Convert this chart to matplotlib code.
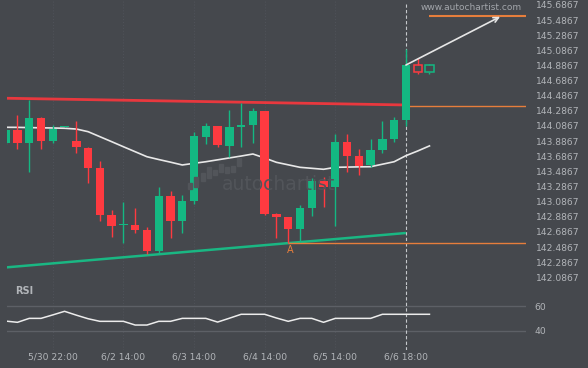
import matplotlib
matplotlib.use("Agg")
import matplotlib.pyplot as plt
import numpy as np
from matplotlib.patches import Rectangle
from matplotlib.transforms import ScaledTranslation

# 4h candles, index 0..36 (35, 36 are the hollow forecast boxes)
opens = [143.812, 143.980, 143.812, 144.139, 143.839, 144.024, 143.835, 143.742, 143.478, 142.853,
         142.722, 142.725, 142.659, 142.381, 143.108, 142.782, 143.046, 143.892, 144.033, 143.773,
         144.024, 144.050, 144.231, 142.870, 142.831, 142.676, 142.953, 143.306, 143.227, 143.822,
         143.637, 143.518, 143.716, 143.861, 144.116, 144.835, 144.751]
highs = [144.000, 144.178, 144.377, 144.152, 144.046, 144.036, 144.099, 143.752, 143.571, 142.923,
         143.025, 142.953, 142.698, 143.227, 143.174, 143.117, 143.950, 144.077, 144.033, 144.245,
         144.333, 144.267, 144.231, 142.887, 142.831, 142.985, 143.342, 143.355, 143.931, 143.927,
         143.733, 143.857, 144.099, 144.148, 145.051, 144.936, 144.856]
lows = [143.800, 143.733, 143.421, 143.733, 143.812, 144.022, 143.672, 143.276, 142.774, 142.570,
        142.483, 142.615, 142.338, 142.359, 142.549, 142.623, 142.998, 143.791, 143.752, 143.627,
        143.752, 143.804, 142.861, 142.549, 142.483, 142.496, 142.848, 142.967, 142.716, 143.421,
        143.389, 143.487, 143.680, 143.826, 144.033, 144.724, 144.724]
closes = [143.980, 143.812, 144.139, 143.839, 143.993, 144.033, 143.760, 143.482, 142.861, 142.716,
          142.727, 142.663, 142.385, 143.108, 142.782, 143.042, 143.901, 144.033, 143.786, 144.020,
          144.050, 144.231, 142.874, 142.835, 142.676, 142.949, 143.306, 143.227, 143.822, 143.641,
          143.508, 143.716, 143.861, 144.112, 144.839, 144.751, 144.835]
forecast = [35, 36]

ma = [144.016, 144.015, 144.012, 144.009, 144.007, 144.003, 143.993, 143.958, 143.892, 143.826,
      143.759, 143.693, 143.627, 143.590, 143.555, 143.518, 143.540, 143.561, 143.586, 143.611,
      143.636, 143.663, 143.610, 143.553, 143.520, 143.487, 143.474, 143.461, 143.487, 143.490,
      143.493, 143.495, 143.528, 143.561, 143.641, 143.703, 143.770]

rsi = [47.8, 46.8, 50.0, 50.0, 52.8, 55.7, 52.6, 49.7, 47.6, 47.6,
       47.6, 44.6, 44.6, 47.6, 47.6, 50.0, 50.0, 50.0, 47.0, 50.1,
       53.3, 53.3, 53.3, 50.3, 47.6, 50.0, 50.0, 46.8, 50.0, 50.0,
       50.0, 50.0, 53.3, 53.3, 53.3, 53.3, 53.3]

resistance_x = [0, 34]
resistance_y = [144.400, 144.311]
support_x = [0, 34]
support_y = [142.164, 142.619]
breakout_level = 144.30
low_level = 142.4867
target_level = 145.4867
arrow_start = (34, 144.839)
arrow_end = (42, 145.477)
point_a = (24, 142.4867)

xtick_pos = [4, 10, 16, 22, 28, 34]
xtick_labels = ["5/30 22:00", "6/2 14:00", "6/3 14:00", "6/4 14:00", "6/5 14:00", "6/6 18:00"]
ytick_vals = [142.0867 + 0.2 * k for k in range(19)]
rsi_ticks = [40, 60]

bg = "#45484d"
green = "#14b882"
red = "#fe3a40"
orange = "#e67e3c"
txt = "#b2b5b9"
xmin, xmax = 0.11, 44.2

fig = plt.figure(figsize=(5.88, 3.68), dpi=100, facecolor=bg)
ax = fig.add_axes([7 / 588, 1 - 285 / 368, 519 / 588, 285 / 368], facecolor=bg)
ax2 = fig.add_axes([7 / 588, 1 - 350 / 368, 519 / 588, 65 / 368], facecolor=bg)

# watermark logo
bars = [(188, 186, 6), (194, 182, 10), (201, 177, 8), (207, 172, 11), (213, 172, 5),
        (219, 168, 8), (225, 170, 6), (231, 169, 6), (237, 162, 8)]
for bx, by, bh in bars:
    fig.patches.append(Rectangle((bx / 588, 1 - (by + bh / 2) / 368), 3.5 / 588, bh / 368,
                                 transform=fig.transFigure, color="#52555a", zorder=0))
fig.text(222 / 588, 1 - 185 / 368, "autochartist", color="#52555a", fontsize=13.5,
         va="center", ha="left", zorder=0)

# vertical grid
for xp in xtick_pos[:-1]:
    ax.axvline(xp, color="#50535a", lw=0.7, ls=(0, (1, 2)), zorder=1)
    ax2.axvline(xp, color="#50535a", lw=0.7, ls=(0, (1, 2)), zorder=1)

# trend lines
ax.plot(resistance_x, resistance_y, color="#e8383e", lw=2.0, zorder=3, solid_capstyle="butt")
ax.plot(support_x, support_y, color="#1ab783", lw=1.8, zorder=3, solid_capstyle="butt")

# moving average
ax.plot(range(len(ma)), ma, color="#e8e8e8", lw=1.2, zorder=4)

# candles
w = 0.71
for i in range(len(opens)):
    o, h, l, c = opens[i], highs[i], lows[i], closes[i]
    col = green if c >= o else red
    if i in forecast:
        col = red if i == 35 else green
    bottom = min(o, c)
    height = max(abs(c - o), 0.012)
    if i in forecast:
        ax.vlines(i, h, max(o, c), color=col, lw=1, zorder=5)
        ax.vlines(i, min(o, c), l, color=col, lw=1, zorder=5)
        ax.add_patch(Rectangle((i - w / 2, bottom), w, height, facecolor="none",
                               edgecolor=col, lw=1.1, zorder=5))
    else:
        ax.vlines(i, l, h, color=col, lw=1, zorder=5)
        ax.add_patch(Rectangle((i - w / 2, bottom), w, height, facecolor=col,
                               edgecolor="none", zorder=5))

# levels
ax.hlines(breakout_level, 34, xmax, color=orange, lw=1.0, zorder=4)
ax.hlines(low_level, point_a[0], xmax, color=orange, lw=1.0, zorder=4)
ax.hlines(target_level, 36, xmax, color=orange, lw=1.5, zorder=4)
ax.text(point_a[0] + 0.2, point_a[1] - 0.03, "A", color=orange, fontsize=7, ha="center", va="top")

ax.annotate("", xy=arrow_end, xytext=arrow_start,
            arrowprops=dict(arrowstyle="->", color="#e6e6e6", lw=1.2,
                            shrinkA=0, shrinkB=0, mutation_scale=9), zorder=6)

# current time marker
ax.axvline(34, ymax=0.985, color="#c5c8cc", lw=0.8, ls=(0, (3, 2)), zorder=2)
ax2.axvline(34, color="#c5c8cc", lw=0.8, ls=(0, (3, 2)), zorder=2)

ax.set_xlim(xmin, xmax)
ax.set_ylim(141.9318, 145.6982)
ax.set_xticks([])
ax.yaxis.tick_right()
ax.set_yticks(ytick_vals)
ax.set_yticklabels([f"{v:.4f}" for v in ytick_vals])
ax.tick_params(axis="y", length=0, pad=7, labelsize=6.6, labelcolor=txt)
for lab in ax.get_yticklabels():
    lab.set_transform(lab.get_transform() + ScaledTranslation(0, -4 / 100, fig.dpi_scale_trans))

# RSI panel
for t in rsi_ticks:
    ax2.axhline(t, color="#5d6066", lw=1, zorder=1)
ax2.plot(range(len(rsi)), rsi, color="#ececec", lw=1.1, zorder=4)
ax2.set_xlim(xmin, xmax)
ax2.set_ylim(24.4, 77.0)
ax2.yaxis.tick_right()
ax2.set_yticks(rsi_ticks)
ax2.tick_params(axis="y", length=0, pad=6, labelsize=6.6, labelcolor=txt)
ax2.set_xticks(xtick_pos)
ax2.set_xticklabels(xtick_labels)
ax2.tick_params(axis="x", length=0, pad=1.5, labelsize=6.6, labelcolor=txt)

for a in (ax, ax2):
    for s in a.spines.values():
        s.set_visible(False)

fig.text(15 / 588, 1 - 291 / 368, "RSI", color=txt, fontsize=7, fontweight="bold", va="center")
fig.text(522 / 588, 1 - 7 / 368, "www.autochartist.com", color="#a3a6ab", fontsize=6.5,
         ha="right", va="center")

fig.savefig("out.png", dpi=100, facecolor=bg)
